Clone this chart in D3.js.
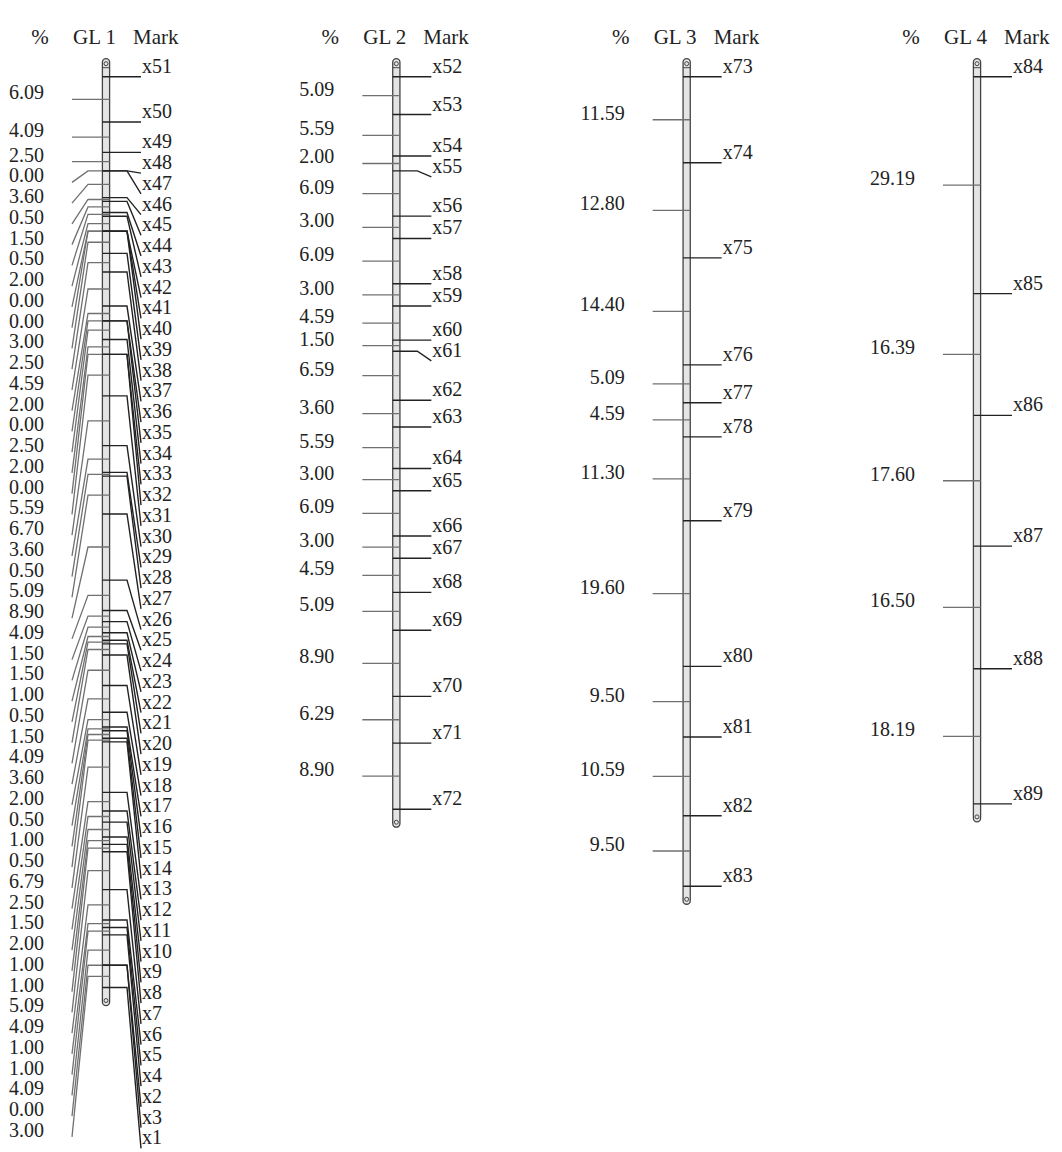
<!DOCTYPE html>
<html>
<head>
<meta charset="utf-8">
<script src="https://cdn.jsdelivr.net/npm/d3@7"></script>
<style>
  html, body { margin: 0; background: #fff; }
  svg { display: block; }
  text { font-family: "Liberation Serif", "Times New Roman", serif; font-size: 20px; fill: #222; }
  text.heading { font-size: 21px; }
</style>
</head>
<body>
<svg id="chart" width="1062" height="1152"></svg>
<script>
// Linkage groups, drawn left to right
const groups = ["GL 1", "GL 2", "GL 3", "GL 4"];

// Markers on each group, from the top of the bar to the bottom
const gl1Markers = ["x51","x50","x49","x48","x47","x46","x45","x44","x43","x42",
  "x41","x40","x39","x38","x37","x36","x35","x34","x33","x32",
  "x31","x30","x29","x28","x27","x26","x25","x24","x23","x22",
  "x21","x20","x19","x18","x17","x16","x15","x14","x13","x12",
  "x11","x10","x9","x8","x7","x6","x5","x4","x2","x3","x1"];
const gl2Markers = ["x52","x53","x54","x55","x56","x57","x58","x59","x60","x61",
  "x62","x63","x64","x65","x66","x67","x68","x69","x70","x71","x72"];
const gl3Markers = ["x73","x74","x75","x76","x77","x78","x79","x80","x81","x82","x83"];
const gl4Markers = ["x84","x85","x86","x87","x88","x89"];

// Recombination (%) between neighbouring markers, top to bottom
const gl1Intervals = [6.09, 4.09, 2.50, 0.00, 3.60, 0.50, 1.50, 0.50, 2.00, 0.00,
  0.00, 3.00, 2.50, 4.59, 2.00, 0.00, 2.50, 2.00, 0.00, 5.59,
  6.70, 3.60, 0.50, 5.09, 8.90, 4.09, 1.50, 1.50, 1.00, 0.50,
  1.50, 4.09, 3.60, 2.00, 0.50, 1.00, 0.50, 6.79, 2.50, 1.50,
  2.00, 1.00, 1.00, 5.09, 4.09, 1.00, 1.00, 4.09, 0.00, 3.00];
const gl2Intervals = [5.09, 5.59, 2.00, 6.09, 3.00, 6.09, 3.00, 4.59, 1.50, 6.59,
  3.60, 5.59, 3.00, 6.09, 3.00, 4.59, 5.09, 8.90, 6.29, 8.90];
const gl3Intervals = [11.59, 12.80, 14.40, 5.09, 4.59, 11.30, 19.60, 9.50, 10.59, 9.50];
const gl4Intervals = [29.19, 16.39, 17.60, 16.50, 18.19];

const markerLists = [gl1Markers, gl2Markers, gl3Markers, gl4Markers];
const intervalLists = [gl1Intervals, gl2Intervals, gl3Intervals, gl4Intervals];

const linkage = groups.map((name, i) => {
  const intervals = intervalLists[i];
  const pos = [0, ...d3.cumsum(intervals)];
  return {
    name,
    markers: markerLists[i].map((m, j) => ({ name: m, pos: pos[j] })),
    intervals: intervals.map((v, j) => ({ value: v, mid: (pos[j] + pos[j + 1]) / 2 })),
    length: pos[pos.length - 1]
  };
});

const svg = d3.select("#chart");
const fmt = d3.format(".2f");

const pxPerUnit = 7.43;
const top0 = 76.7;
const maxLen = d3.max(linkage, g => g.length);
const y = d3.scaleLinear().domain([0, maxLen]).range([top0, top0 + maxLen * pxPerUnit]);
const x = d3.scalePoint().domain(groups).range([106, 977]);

const labelGap = 20.75;
const barHalf = 3.6;

// push labels down so that consecutive labels keep at least one line of space
function spread(desired) {
  const out = [];
  desired.forEach((d, i) => out.push(i ? Math.max(d, out[i - 1] + labelGap) : d));
  return out;
}

linkage.forEach(g => {
  const cx = x(g.name);
  const grp = svg.append("g").attr("class", "linkage-group");

  // column headings
  grp.append("text").attr("class", "heading").attr("x", cx - 66).attr("y", 44)
    .attr("text-anchor", "middle").text("%");
  grp.append("text").attr("class", "heading").attr("x", cx - 33).attr("y", 44).text(g.name);
  grp.append("text").attr("class", "heading").attr("x", cx + 27).attr("y", 44).text("Mark");

  // chromosome bar
  const yTop = y(0) - 18, yBot = y(g.length) + 18;
  grp.append("rect")
    .attr("x", cx - barHalf).attr("y", yTop)
    .attr("width", barHalf * 2).attr("height", yBot - yTop)
    .attr("rx", barHalf).attr("ry", barHalf)
    .attr("fill", "#e4e4e4").attr("stroke", "#444").attr("stroke-width", 1.3);
  [yTop + 5, yBot - 5].forEach(cy => {
    grp.append("circle").attr("cx", cx).attr("cy", cy).attr("r", 2)
      .attr("fill", "none").attr("stroke", "#444").attr("stroke-width", 1);
  });
  grp.append("line").attr("x1", cx - barHalf).attr("x2", cx + barHalf)
    .attr("y1", yTop + 9).attr("y2", yTop + 9).attr("stroke", "#444").attr("stroke-width", 1);

  // interval values on the left
  const leftAnchor = spread(g.intervals.map(d => y(d.mid)));
  grp.selectAll("path.interval").data(g.intervals).join("path")
    .attr("class", "interval")
    .attr("fill", "none").attr("stroke", "#707070").attr("stroke-width", 1.3)
    .attr("d", (d, i) => {
      const y0 = y(d.mid), y1 = leftAnchor[i];
      return Math.abs(y1 - y0) < 0.5
        ? `M${cx + barHalf},${y0}H${cx - 34}`
        : `M${cx + barHalf},${y0}H${cx - 18}L${cx - 34},${y1}`;
    });
  grp.selectAll("text.interval").data(g.intervals).join("text")
    .attr("class", "interval")
    .attr("x", cx - 62).attr("y", (d, i) => leftAnchor[i])
    .attr("text-anchor", "end")
    .text(d => fmt(d.value));

  // markers on the right
  const rightAnchor = spread(g.markers.map(d => y(d.pos)));
  grp.selectAll("path.marker").data(g.markers).join("path")
    .attr("class", "marker")
    .attr("fill", "none").attr("stroke", "#222").attr("stroke-width", 1.4)
    .attr("d", (d, i) => {
      const y0 = y(d.pos), y1 = rightAnchor[i];
      return Math.abs(y1 - y0) < 0.5
        ? `M${cx - barHalf},${y0}H${cx + 35}`
        : `M${cx - barHalf},${y0}H${cx + 21}L${cx + 35},${y1}`;
    });
  grp.selectAll("text.marker").data(g.markers).join("text")
    .attr("class", "marker")
    .attr("x", cx + 36).attr("y", (d, i) => rightAnchor[i] - 4)
    .text(d => d.name);
});
</script>
</body>
</html>
